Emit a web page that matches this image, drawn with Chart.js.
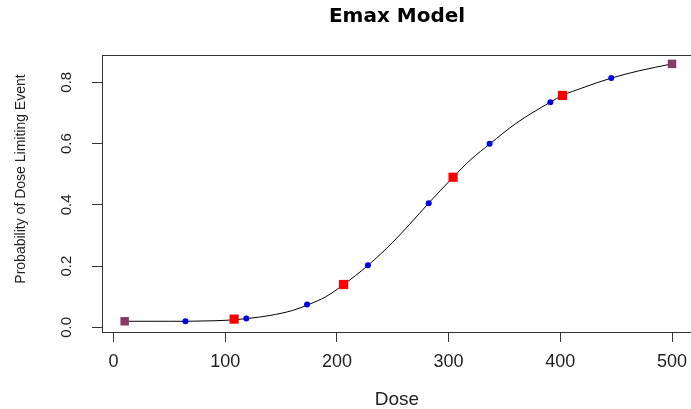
<!DOCTYPE html>
<html><head><meta charset="utf-8">
<script src="https://cdn.jsdelivr.net/npm/chart.js@4"></script>
<style>html,body{margin:0;padding:0;background:#fff}#wrap{width:691px;height:409px;position:relative}</style>
</head><body><div id="wrap"><canvas id="c"></canvas></div>
<script>
const titleText = 'Emax Model';
const xTitle = 'Dose';
const yTitle = 'Probability of Dose Limiting Event';

const xTicks = [0, 100, 200, 300, 400, 500];
const yTicks = [0, 0.2, 0.4, 0.6, 0.8];
const yTickLabels = ['0.0', '0.2', '0.4', '0.6', '0.8'];

// fitted curve
const curveDose = [10, 30, 50, 65, 80, 100, 120, 140, 160, 175, 190, 205, 228, 250, 265, 282, 304, 320, 337, 360, 391, 402, 420, 446, 470, 500];
const curveProb = [0.020, 0.020, 0.020, 0.020, 0.021, 0.023, 0.029, 0.039, 0.055, 0.075, 0.100, 0.137, 0.203, 0.278, 0.336, 0.405, 0.490, 0.548, 0.599, 0.665, 0.735, 0.757, 0.782, 0.814, 0.837, 0.860];

// blue dots
const blueDose = [64.4, 118.9, 173.3, 227.8, 282.2, 336.7, 391.1, 445.6];
const blueProb = [0.020, 0.029, 0.075, 0.203, 0.405, 0.599, 0.735, 0.814];

// red squares
const redDose = [108, 206, 304, 402];
const redProb = [0.027, 0.140, 0.490, 0.757];

// purple squares (end points)
const purpleDose = [10, 500];
const purpleProb = [0.020, 0.860];

const pts = (xs, ys) => xs.map((x, i) => ({x: x, y: ys[i]}));

const boxPlugin = {
  id: 'box',
  afterDraw(chart) {
    const {ctx, chartArea: a} = chart;
    ctx.save();
    ctx.strokeStyle = '#333';
    ctx.lineWidth = 1;
    const l = Math.round(a.left) - 0.5, t = Math.round(a.top) + 0.5, b = Math.round(a.bottom) + 0.5;
    ctx.strokeRect(l, t, a.right - l + 5, b - t);
    // rotated y tick labels
    const ys = chart.scales.y;
    ctx.fillStyle = '#222';
    ctx.font = '15px "Liberation Sans", Arial, sans-serif';
    ctx.textAlign = 'center';
    ctx.textBaseline = 'alphabetic';
    yTicks.forEach((v, i) => {
      const py = ys.getPixelForValue(v);
      ctx.save();
      ctx.translate(71, py);
      ctx.rotate(-Math.PI / 2);
      ctx.fillText(yTickLabels[i], 0, 0);
      ctx.restore();
    });
    // y axis title
    ctx.font = '14px "Liberation Sans", Arial, sans-serif';
    ctx.save();
    ctx.translate(25, 179);
    ctx.rotate(-Math.PI / 2);
    ctx.fillText(yTitle, 0, 0);
    ctx.restore();
    ctx.restore();
  }
};

new Chart(document.getElementById('c'), {
  type: 'scatter',
  data: {
    datasets: [
      {data: pts(curveDose, curveProb), showLine: true, pointRadius: 0, borderColor: '#000', borderWidth: 1, cubicInterpolationMode: 'monotone', order: 10},
      {data: pts(blueDose, blueProb), pointStyle: 'circle', pointRadius: 3, backgroundColor: '#0000e6', borderColor: '#0000e6', borderWidth: 0, order: 3},
      {data: pts(redDose, redProb), pointStyle: 'rect', pointRadius: 6.5, backgroundColor: '#ff0000', borderColor: '#ff0000', borderWidth: 0, order: 2},
      {data: pts(purpleDose, purpleProb), pointStyle: 'rect', pointRadius: 6, backgroundColor: '#883a64', borderColor: '#883a64', borderWidth: 0, order: 1}
    ]
  },
  options: {
    responsive: true,
    maintainAspectRatio: false,
    animation: false,
    layout: {padding: 0, autoPadding: false},
    plugins: {
      legend: {display: false},
      tooltip: {enabled: false},
      title: {display: true, text: titleText, fullSize: false, color: '#000',
        font: {family: 'DejaVu Sans', size: 20, weight: 'bold'}, padding: {top: 5, bottom: 26}}
    },
    scales: {
      x: {
        type: 'linear', min: -9.4, max: 517,
        afterBuildTicks: s => { s.ticks = xTicks.map(v => ({value: v})); },
        afterFit: s => { s.height = 77; s.paddingLeft = 0; s.paddingRight = 0; },
        grid: {drawOnChartArea: false, drawTicks: true, tickLength: 10, tickColor: '#333'},
        border: {display: false},
        ticks: {color: '#222', padding: 9, maxRotation: 0, autoSkip: false,
          font: {family: 'Liberation Sans', size: 18}},
        title: {display: true, text: xTitle, color: '#222', padding: 0,
          font: {family: 'Liberation Sans', size: 19, lineHeight: 1}}
      },
      y: {
        type: 'linear', min: -0.015, max: 0.889,
        afterBuildTicks: s => { s.ticks = yTicks.map(v => ({value: v})); },
        afterFit: s => { s.width = 103; s.paddingTop = 0; s.paddingBottom = 0; },
        grid: {drawOnChartArea: false, drawTicks: true, tickLength: 11, tickColor: '#333'},
        border: {display: false},
        ticks: {display: false}
      }
    }
  },
  plugins: [boxPlugin]
});
</script>
</body></html>
